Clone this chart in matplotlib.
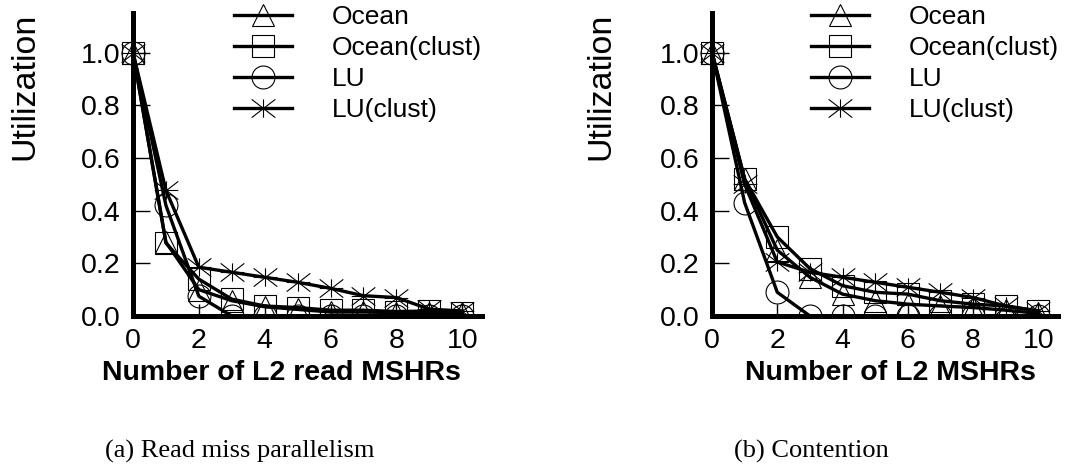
import matplotlib
matplotlib.use("Agg")
import matplotlib.pyplot as plt
from matplotlib.path import Path
from matplotlib.patches import Rectangle
import numpy as np

plt.rcParams['font.family'] = ['Liberation Sans', 'DejaVu Sans']

x = list(range(11))
series_names = ["Ocean", "Ocean(clust)", "LU", "LU(clust)"]

# (a) Read miss parallelism
a_ocean = [1.0, 0.28, 0.10, 0.058, 0.035, 0.025, 0.015, 0.015, 0.013, 0.012, 0.010]
a_ocean_clust = [1.0, 0.277, 0.14, 0.064, 0.038, 0.032, 0.022, 0.022, 0.017, 0.019, 0.013]
a_lu = [1.0, 0.42, 0.075, 0.0, 0.0, 0.0, 0.0, 0.0, 0.0, 0.0, 0.0]
a_lu_clust = [1.0, 0.477, 0.185, 0.166, 0.147, 0.128, 0.105, 0.077, 0.07, 0.026, 0.019]

# (b) Contention
b_ocean = [1.0, 0.52, 0.25, 0.147, 0.083, 0.058, 0.045, 0.038, 0.032, 0.022, 0.010]
b_ocean_clust = [1.0, 0.52, 0.30, 0.18, 0.115, 0.09, 0.083, 0.058, 0.045, 0.038, 0.019]
b_lu = [1.0, 0.43, 0.09, 0.0, 0.0, 0.0, 0.0, 0.0, 0.0, 0.0, 0.0]
b_lu_clust = [1.0, 0.50, 0.205, 0.166, 0.147, 0.128, 0.109, 0.09, 0.07, 0.038, 0.019]

yticks = [0.0, 0.2, 0.4, 0.6, 0.8, 1.0]
xticks = [0, 2, 4, 6, 8, 10]

star = Path([(0, -0.85), (0, 0.85), (-1.1, 0), (1.1, 0),
             (-1.1, -0.85), (1.1, 0.85), (-1.1, 0.85), (1.1, -0.85)],
            [Path.MOVETO, Path.LINETO] * 4)
markers = ['^', 's', 'o', star]

fig = plt.figure(figsize=(10.65, 4.65), dpi=100)

panels = [
    dict(rect=[133/1065, 149/465, 349/1065, 303/465],
         data=[a_ocean, a_ocean_clust, a_lu, a_lu_clust],
         xlabel="Number of L2 read MSHRs", xlab_x=281,
         ylab_x=25, caption="(a) Read miss parallelism", cap_x=240,
         leg_x=234),
    dict(rect=[712/1065, 149/465, 346/1065, 303/465],
         data=[b_ocean, b_ocean_clust, b_lu, b_lu_clust],
         xlabel="Number of L2 MSHRs", xlab_x=890,
         ylab_x=601, caption="(b) Contention", cap_x=811,
         leg_x=811),
]

for p in panels:
    ax = fig.add_axes(p['rect'])
    # clip only below the x axis (markers may spill left of the y axis)
    clip = Rectangle((-0.2, 0.0), 1.4, 1.3, transform=ax.transAxes,
                     facecolor='none', edgecolor='none')
    handles = []
    for ys, m, name in zip(p['data'], markers, series_names):
        ms = 17 if m is star else 16.5
        h, = ax.plot(x, ys, '-', color='black', lw=2.4, marker=m, ms=ms,
                     mew=0.8, mfc='none', mec='black', label=name)
        h.set_clip_path(clip)
        handles.append(h)
    ax.set_xlim(0, 10.6)
    ax.set_ylim(0, 1.15)
    ax.set_xticks(xticks)
    ax.set_yticks(yticks)
    ax.set_yticklabels([f"{v:.1f}" for v in yticks])
    for s in ['top', 'right']:
        ax.spines[s].set_visible(False)
    for s in ['left', 'bottom']:
        ax.spines[s].set_linewidth(3.6)
        ax.spines[s].set_zorder(5)
    ax.tick_params(axis='y', direction='in', length=12, width=1.0,
                   labelsize=20.5, pad=9)
    ax.tick_params(axis='x', direction='in', length=9, width=1.0,
                   labelsize=20.5, pad=9)
    ax.set_facecolor('none')
    leg = ax.legend(handles=handles, loc='upper left',
                    bbox_to_anchor=(p['leg_x']/1065, 1 - 5/465),
                    bbox_transform=fig.transFigure,
                    frameon=False, fontsize=19, handlelength=2.2,
                    handletextpad=1.5, labelspacing=0.27,
                    borderaxespad=0, borderpad=0.0)
    fig.text(p['xlab_x']/1065, 1 - 373/465, p['xlabel'], ha='center',
             va='center', fontsize=20.5, fontweight='bold')
    fig.text(p['ylab_x']/1065, 1 - 86/465, "Utilization", ha='center',
             va='center', rotation=90, fontsize=24.5)
    fig.text(p['cap_x']/1065, 1 - 451/465, p['caption'], ha='center',
             va='center', fontsize=19, family=['Liberation Serif'])

fig.savefig("out.png", dpi=100)
